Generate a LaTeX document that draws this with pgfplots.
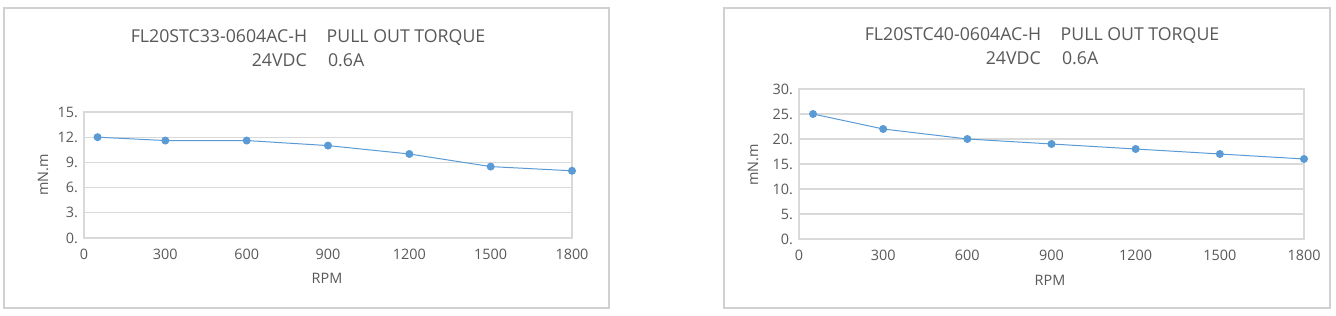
\documentclass[border=0pt]{standalone}
\usepackage{pgfplots}
\pgfplotsset{compat=1.18}
\usepackage{fontspec}
\setmainfont{Open Sans}
\definecolor{txt}{HTML}{595959}
\definecolor{gridc}{HTML}{D9D9D9}
\definecolor{framec}{HTML}{D0D0D0}
\definecolor{ser}{HTML}{5B9BD5}
\pgfplotsset{
  torque/.style={
    scale only axis,
    xmin=0, xmax=1800,
    xtick={0,300,600,900,1200,1500,1800},
    xticklabels={0,300,600,900,1200,1500,1800},
    ymajorgrids, major grid style={gridc, line width=0.9pt},
    axis line style={gridc, line width=0.9pt},
    major tick length=0pt,
    tick label style={font=\fontsize{10.8}{12}\selectfont, text=txt},
    xticklabel style={yshift=-5pt},
    yticklabel style={xshift=-1pt},
    /pgf/number format/assume math mode=true,
    clip=false,
  }
}
\begin{document}
\begin{tikzpicture}[x=0.75pt,y=0.75pt]
\fill[white] (0,0) rectangle (1336,316);
\draw[framec, line width=1.4pt] (4,8) rectangle (609,308);
\draw[framec, line width=1.4pt] (724,8) rectangle (1330,308);
% left chart
\begin{axis}[torque, at={(84*0.75pt,78*0.75pt)}, anchor=south west,
  width=488*0.75pt, height=126*0.75pt,
  ymin=0, ymax=15, ytick={0,3,6,9,12,15},
  yticklabels={0.,3.,6.,9.,12.,15.}]
\addplot[ser, line width=0.75pt, mark=*, mark size=2.6pt, mark options={fill=ser, draw=ser}]
coordinates {(50,12) (300,11.6) (600,11.6) (900,11) (1200,10) (1500,8.5) (1800,8)};
\end{axis}
% right chart
\begin{axis}[torque, at={(799*0.75pt,77*0.75pt)}, anchor=south west,
  width=505*0.75pt, height=150*0.75pt,
  ymin=0, ymax=30, ytick={0,5,10,15,20,25,30},
  yticklabels={0.,5.,10.,15.,20.,25.,30.}]
\addplot[ser, line width=0.75pt, mark=*, mark size=2.6pt, mark options={fill=ser, draw=ser}]
coordinates {(50,25) (300,22) (600,20) (900,19) (1200,18) (1500,17) (1800,16)};
\end{axis}
% titles
\node[text=txt, font=\fontsize{13.3}{15}\selectfont, align=center] at (308,268)
  {FL20STC33-0604AC-H\hspace{1.1em}PULL OUT TORQUE\\[3pt] 24VDC\hspace{1.2em}0.6A};
\node[text=txt, font=\fontsize{13.3}{15}\selectfont, align=center] at (1042,270)
  {FL20STC40-0604AC-H\hspace{1.1em}PULL OUT TORQUE\\[3pt] 24VDC\hspace{1.2em}0.6A};
% axis labels
\node[text=txt, font=\fontsize{10.8}{12}\selectfont, rotate=90] at (43,141) {mN.m};
\node[text=txt, font=\fontsize{10.8}{12}\selectfont, rotate=90] at (753,151) {mN.m};
\node[text=txt, font=\fontsize{10.8}{12}\selectfont] at (327,38) {RPM};
\node[text=txt, font=\fontsize{10.8}{12}\selectfont] at (1050,36) {RPM};
\end{tikzpicture}
\end{document}
